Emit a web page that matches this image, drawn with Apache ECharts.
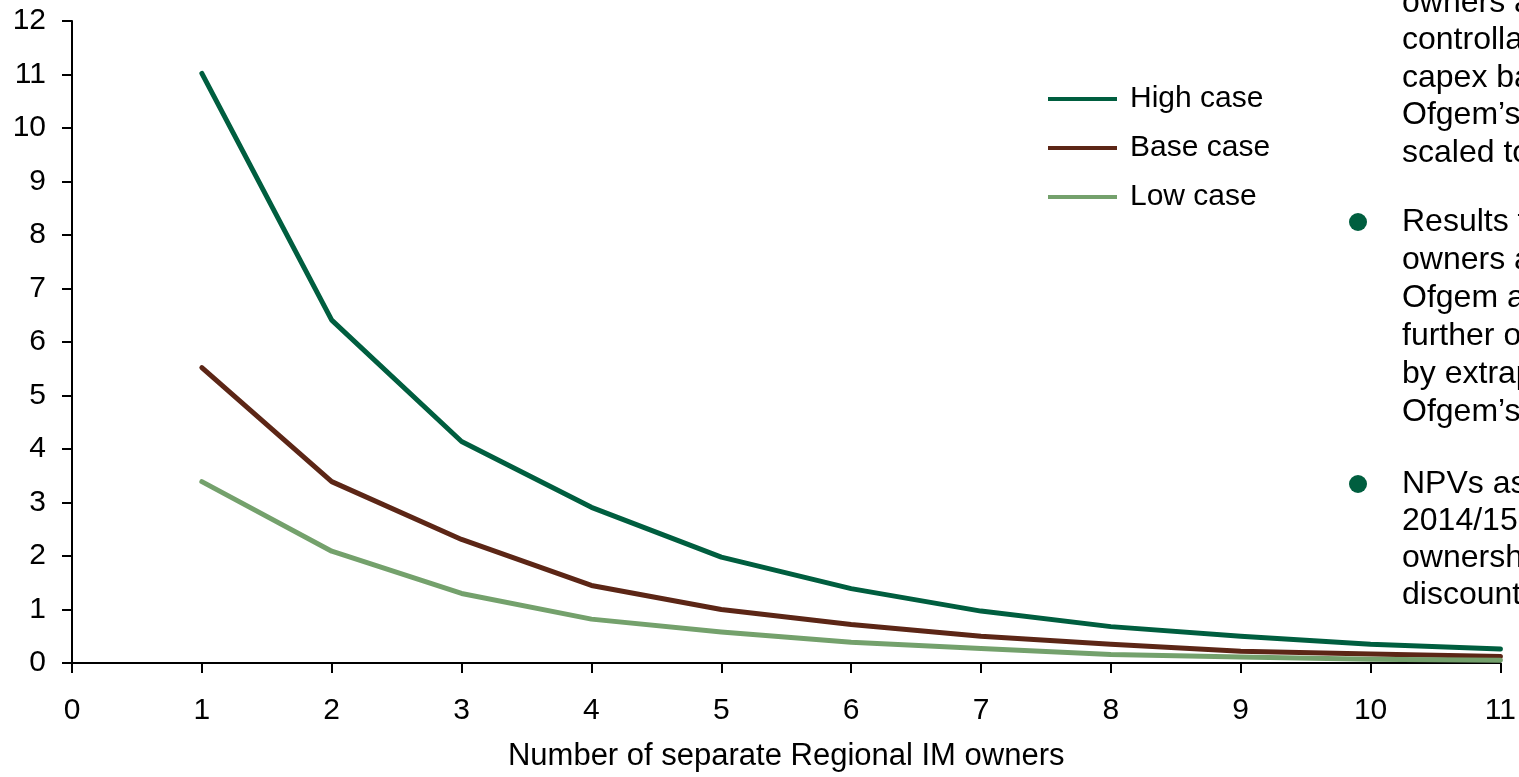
<!DOCTYPE html>
<html>
<head>
<meta charset="utf-8">
<script src="https://cdn.jsdelivr.net/npm/echarts@6/dist/echarts.min.js"></script>
<style>
html,body{margin:0;padding:0;background:#fff;}
#chart{width:1519px;height:777px;}
</style>
</head>
<body>
<div id="chart"></div>
<script>
const xValues = [1, 2, 3, 4, 5, 6, 7, 8, 9, 10, 11];
const highCase = [11.02, 6.41, 4.14, 2.91, 1.98, 1.39, 0.97, 0.68, 0.50, 0.35, 0.26];
const baseCase = [5.52, 3.39, 2.31, 1.45, 1.00, 0.72, 0.50, 0.35, 0.22, 0.17, 0.12];
const lowCase = [3.39, 2.09, 1.30, 0.82, 0.58, 0.39, 0.27, 0.16, 0.11, 0.07, 0.05];
const seriesNames = ['High case', 'Base case', 'Low case'];
const xAxisTitle = 'Number of separate Regional IM owners';
const noteBlocks = [
  ['owners a', 'controlla', 'capex ba', 'Ofgem\u2019s', 'scaled to'],
  ['Results f', 'owners a', 'Ofgem a', 'further o', 'by extrap', 'Ofgem\u2019s'],
  ['NPVs as', '2014/15', 'ownersh', 'discount']
];
const bulletFlags = [false, true, true];

const FONT = '"Liberation Sans", Arial, Helvetica, sans-serif';
const colors = ['#005E3F', '#5C2616', '#74A16C'];

function pairs(vals) { return xValues.map((x, i) => [x, vals[i]]); }

const blockBaselines = [14, 233, 495];
const blockSpacing = [37.5, 38, 37];
const graphics = [];
noteBlocks.forEach((lines, b) => {
  lines.forEach((t, i) => {
    graphics.push({
      type: 'text',
      x: 1402, y: blockBaselines[b] + i * blockSpacing[b] - 11,
      style: { text: t, font: '32px ' + FONT, fill: '#000', verticalAlign: 'middle', textAlign: 'left' },
      silent: true
    });
  });
  if (bulletFlags[b]) {
    graphics.push({
      type: 'circle',
      shape: { cx: 1358, cy: blockBaselines[b] - 11, r: 9 },
      style: { fill: colors[0] },
      silent: true
    });
  }
});

const chart = echarts.init(document.getElementById('chart'), null, { renderer: 'canvas' });
chart.setOption({
  animation: false,
  backgroundColor: '#fff',
  grid: { left: 72, right: 17, top: 21, bottom: 112, containLabel: false },
  legend: {
    data: seriesNames,
    orient: 'vertical',
    left: 1048, top: 84,
    itemWidth: 69, itemHeight: 4,
    itemGap: 19,
    padding: 0,
    icon: 'rect',
    textStyle: { fontFamily: FONT, fontSize: 30, color: '#000', padding: [0, 0, 0, 8] }
  },
  xAxis: {
    type: 'value', min: 0, max: 11, interval: 1,
    name: xAxisTitle, nameLocation: 'middle', nameGap: 78,
    nameTextStyle: { fontFamily: FONT, fontSize: 31, color: '#000' },
    axisLine: { show: true, onZero: false, lineStyle: { color: '#000', width: 2 } },
    axisTick: { show: true, length: 10, lineStyle: { color: '#000', width: 2 } },
    axisLabel: { fontFamily: FONT, fontSize: 30, color: '#000', margin: 33 },
    splitLine: { show: false }
  },
  yAxis: {
    type: 'value', min: 0, max: 12, interval: 1,
    axisLine: { show: true, lineStyle: { color: '#000', width: 2 } },
    axisTick: { show: true, length: 10, lineStyle: { color: '#000', width: 2 } },
    axisLabel: { fontFamily: FONT, fontSize: 30, color: '#000', margin: 26 },
    splitLine: { show: false }
  },
  series: [highCase, baseCase, lowCase].map((vals, i) => ({
    name: seriesNames[i],
    type: 'line',
    data: pairs(vals),
    symbol: 'none',
    color: colors[i],
    lineStyle: { width: 5, color: colors[i], cap: 'round', join: 'round' },
    z: 2 + i
  })),
  graphic: graphics
});
</script>
</body>
</html>
